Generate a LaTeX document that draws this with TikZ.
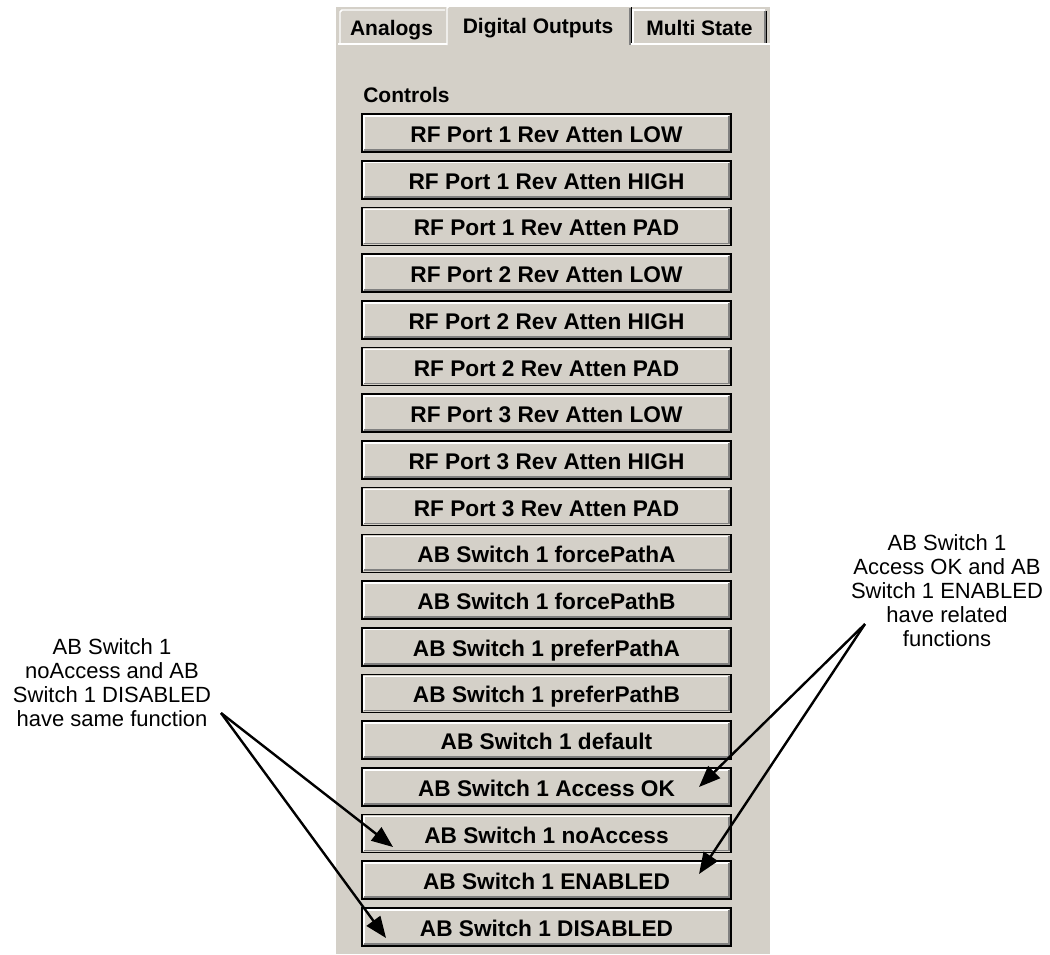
\documentclass[tikz,border=0pt]{standalone}
\usepackage{fontspec}
\setmainfont{Liberation Sans}
\usetikzlibrary{arrows.meta}
\definecolor{winbg}{HTML}{D4D0C8}
\definecolor{winshadow}{HTML}{808080}
\tikzset{
  btn/.style={rectangle, draw=black, line width=1.2pt, fill=winbg, outer sep=0pt, inner sep=0pt,
    minimum width=276.75pt, minimum height=28.5pt, text height=14.25pt, text depth=0pt,
    font=\fontsize{17}{19}\selectfont\bfseries},
  bevlight/.style={draw=white, line width=1.1pt},
  bevdark/.style={draw=winshadow, line width=1.3pt},
  tablabel/.style={anchor=base, inner sep=0pt, font=\fontsize{15.75}{18}\selectfont\bfseries},
  note/.style={anchor=north, align=center, inner sep=0pt, font=\fontsize{16.5}{18}\selectfont},
  arr/.style={draw=black, line width=1.8pt, -{Triangle[length=16pt,width=12.5pt]}},
}
\begin{document}
\begin{tikzpicture}[x=0.75pt,y=-0.75pt]
\useasboundingbox (0,0) rectangle (1050,954);
% panel
\fill[winbg] (336,7) rectangle (770,954);
% tabs
\draw[bevlight] (340,44) -- (340,12) -- (342,10) -- (445,10);
\draw[bevlight] (447,45) -- (447,8) -- (449,6) -- (630,6);
\draw[black, line width=1.1pt] (631.5,7) -- (631.5,45);
\draw[winshadow, line width=1.1pt] (630,8) -- (630,45);
\draw[bevlight] (633,44) -- (633,10) -- (765,10);
\draw[black, line width=1.1pt] (766.5,11) -- (766.5,44);
\draw[winshadow, line width=1.1pt] (765,11) -- (765,44);
\draw[bevlight] (338,44) -- (447,44);
\draw[bevlight] (631,44) -- (770,44);
\node[tablabel] (tabA) at (391.5,35) {Analogs};
\node[tablabel] (tabD) at (538,33) {Digital Outputs};
\node[tablabel] (tabM) at (699.5,35) {Multi State};
\node[tablabel, anchor=base west] (ctl) at (363,102) {Controls};
% buttons
\foreach \lab [count=\i] in {RF Port 1 Rev Atten LOW, RF Port 1 Rev Atten HIGH, RF Port 1 Rev Atten PAD,
  RF Port 2 Rev Atten LOW, RF Port 2 Rev Atten HIGH, RF Port 2 Rev Atten PAD,
  RF Port 3 Rev Atten LOW, RF Port 3 Rev Atten HIGH, RF Port 3 Rev Atten PAD,
  AB Switch 1 forcePathA, AB Switch 1 forcePathB, AB Switch 1 preferPathA, AB Switch 1 preferPathB,
  AB Switch 1 default, AB Switch 1 Access OK, AB Switch 1 noAccess, AB Switch 1 ENABLED, AB Switch 1 DISABLED}{
  \pgfmathsetmacro\ty{114+(\i-1)*46.7+19}
  \node[btn] (b\i) at (546.5,\ty) {\lab};
  \draw[bevlight] ([shift={(2,-2)}]b\i.south west) -- ([shift={(2,2)}]b\i.north west) -- ([shift={(-2,2)}]b\i.north east);
  \draw[bevdark] ([shift={(2,-2)}]b\i.south west) -- ([shift={(-2,-2)}]b\i.south east) -- ([shift={(-2,2)}]b\i.north east);
}
% notes
\node[note] (noteL) at (112,638) {AB Switch 1\\noAccess and AB\\Switch 1 DISABLED\\have same function};
\node[note] (noteR) at (947,534) {AB Switch 1\\Access OK and AB\\Switch 1 ENABLED\\have related\\functions};
\coordinate (apexL) at (221,713);
\coordinate (apexR) at (865,624);
\coordinate (tipL1) at (393,847);
\coordinate (tipL2) at (386,938);
\coordinate (tipR1) at (699,787);
\coordinate (tipR2) at (699,874);
\draw[arr] (apexL) -- (tipL1);
\draw[arr] (apexL) -- (tipL2);
\draw[arr] (apexR) -- (tipR1);
\draw[arr] (apexR) -- (tipR2);
\end{tikzpicture}
\end{document}
